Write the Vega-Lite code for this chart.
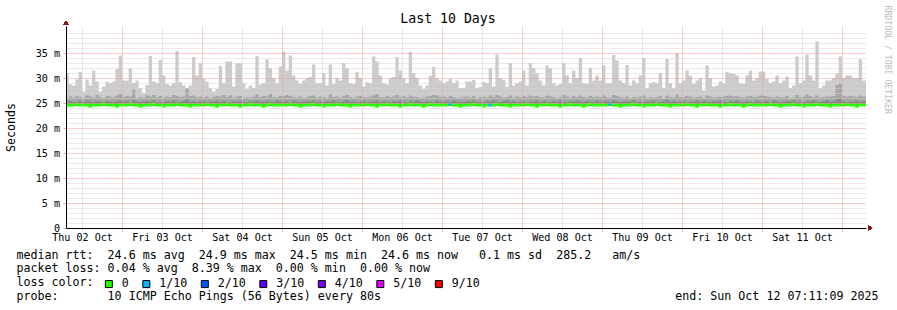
{
"$schema": "https://vega.github.io/schema/vega-lite/v6.json",
"width": 800, "height": 202,
"autosize": {"type": "none"},
"padding": {"left": 66, "top": 26, "right": 31, "bottom": 82},
"background": "white",
"config": {"view": {"stroke": null}, "font": "DejaVu Sans Mono"},
"title": {"text": "Last 10 Days", "font": "DejaVu Sans Mono", "fontSize": 13.2, "fontWeight": "normal", "color": "#000", "anchor": "middle", "frame": "group", "dx": -18, "dy": 23, "offset": 2},
"data": {"values": [
{"t":"2025-10-02T07:00Z","hi":31.0,"mid":26.0,"dk":25.3,"med":24.6,"loss":"0"},
{"t":"2025-10-02T08:00Z","hi":28.7,"mid":26.3,"dk":25.4,"med":24.6,"loss":"0"},
{"t":"2025-10-02T09:00Z","hi":28.5,"mid":26.1,"dk":25.2,"med":24.6,"loss":"0"},
{"t":"2025-10-02T10:00Z","hi":29.7,"mid":26.4,"dk":25.3,"med":24.8,"loss":"0"},
{"t":"2025-10-02T11:00Z","hi":31.2,"mid":26.2,"dk":25.4,"med":24.6,"loss":"0"},
{"t":"2025-10-02T12:00Z","hi":27.3,"mid":26.0,"dk":25.2,"med":24.6,"loss":"0"},
{"t":"2025-10-02T13:00Z","hi":29.7,"mid":26.5,"dk":25.5,"med":24.6,"loss":"0"},
{"t":"2025-10-02T14:00Z","hi":28.5,"mid":26.3,"dk":25.3,"med":24.4,"loss":"0"},
{"t":"2025-10-02T15:00Z","hi":31.5,"mid":26.1,"dk":25.2,"med":24.6,"loss":"0"},
{"t":"2025-10-02T16:00Z","hi":29.3,"mid":26.6,"dk":25.4,"med":24.6,"loss":"0"},
{"t":"2025-10-02T17:00Z","hi":27.3,"mid":26.2,"dk":25.3,"med":24.6,"loss":"0"},
{"t":"2025-10-02T18:00Z","hi":28.3,"mid":26.0,"dk":25.2,"med":24.8,"loss":"0"},
{"t":"2025-10-02T19:00Z","hi":29.3,"mid":26.4,"dk":25.4,"med":24.6,"loss":"0"},
{"t":"2025-10-02T20:00Z","hi":29.0,"mid":26.3,"dk":25.3,"med":24.6,"loss":"0"},
{"t":"2025-10-02T21:00Z","hi":29.3,"mid":26.1,"dk":25.2,"med":24.6,"loss":"0"},
{"t":"2025-10-02T22:00Z","hi":31.8,"mid":26.5,"dk":25.4,"med":24.4,"loss":"0"},
{"t":"2025-10-02T23:00Z","hi":34.5,"mid":26.8,"dk":25.5,"med":24.6,"loss":"0"},
{"t":"2025-10-03T00:00Z","hi":29.5,"mid":26.2,"dk":25.3,"med":24.6,"loss":"0"},
{"t":"2025-10-03T01:00Z","hi":29.5,"mid":26.4,"dk":25.4,"med":24.6,"loss":"0"},
{"t":"2025-10-03T02:00Z","hi":31.9,"mid":26.3,"dk":25.2,"med":24.8,"loss":"0"},
{"t":"2025-10-03T03:00Z","hi":29.0,"mid":27.7,"dk":25.5,"med":24.6,"loss":"0"},
{"t":"2025-10-03T04:00Z","hi":29.5,"mid":26.0,"dk":25.3,"med":24.6,"loss":"0"},
{"t":"2025-10-03T05:00Z","hi":28.0,"mid":26.2,"dk":25.2,"med":24.4,"loss":"0"},
{"t":"2025-10-03T06:00Z","hi":27.0,"mid":26.1,"dk":25.3,"med":24.6,"loss":"0"},
{"t":"2025-10-03T07:00Z","hi":28.6,"mid":26.5,"dk":25.4,"med":24.6,"loss":"0"},
{"t":"2025-10-03T08:00Z","hi":34.4,"mid":26.3,"dk":25.3,"med":24.6,"loss":"0"},
{"t":"2025-10-03T09:00Z","hi":29.3,"mid":26.6,"dk":25.5,"med":24.8,"loss":"0"},
{"t":"2025-10-03T10:00Z","hi":29.0,"mid":26.2,"dk":25.2,"med":24.6,"loss":"0"},
{"t":"2025-10-03T11:00Z","hi":33.6,"mid":26.4,"dk":25.3,"med":24.6,"loss":"0"},
{"t":"2025-10-03T12:00Z","hi":30.5,"mid":26.1,"dk":25.2,"med":24.4,"loss":"0"},
{"t":"2025-10-03T13:00Z","hi":28.8,"mid":26.3,"dk":25.4,"med":24.6,"loss":"0"},
{"t":"2025-10-03T14:00Z","hi":28.5,"mid":26.2,"dk":25.3,"med":24.6,"loss":"0"},
{"t":"2025-10-03T15:00Z","hi":29.0,"mid":26.6,"dk":25.5,"med":24.6,"loss":"0"},
{"t":"2025-10-03T16:00Z","hi":35.4,"mid":26.4,"dk":25.3,"med":24.8,"loss":"0"},
{"t":"2025-10-03T17:00Z","hi":29.2,"mid":26.2,"dk":25.2,"med":24.6,"loss":"0"},
{"t":"2025-10-03T18:00Z","hi":28.5,"mid":26.3,"dk":25.4,"med":24.6,"loss":"0"},
{"t":"2025-10-03T19:00Z","hi":27.8,"mid":28.0,"dk":25.7,"med":24.6,"loss":"0"},
{"t":"2025-10-03T20:00Z","hi":28.5,"mid":26.4,"dk":25.3,"med":24.4,"loss":"0"},
{"t":"2025-10-03T21:00Z","hi":34.2,"mid":26.5,"dk":25.4,"med":24.6,"loss":"0"},
{"t":"2025-10-03T22:00Z","hi":30.5,"mid":26.2,"dk":25.2,"med":24.6,"loss":"0"},
{"t":"2025-10-03T23:00Z","hi":33.0,"mid":26.3,"dk":25.3,"med":24.6,"loss":"0"},
{"t":"2025-10-04T00:00Z","hi":29.8,"mid":26.1,"dk":25.4,"med":24.6,"loss":"0"},
{"t":"2025-10-04T01:00Z","hi":29.3,"mid":26.3,"dk":25.2,"med":24.8,"loss":"0"},
{"t":"2025-10-04T02:00Z","hi":28.0,"mid":26.0,"dk":25.3,"med":24.6,"loss":"0"},
{"t":"2025-10-04T03:00Z","hi":27.3,"mid":26.2,"dk":25.3,"med":24.6,"loss":"0"},
{"t":"2025-10-04T04:00Z","hi":27.8,"mid":26.4,"dk":25.5,"med":24.4,"loss":"0"},
{"t":"2025-10-04T05:00Z","hi":32.4,"mid":26.3,"dk":25.2,"med":24.6,"loss":"0"},
{"t":"2025-10-04T06:00Z","hi":29.0,"mid":26.6,"dk":25.4,"med":24.6,"loss":"0"},
{"t":"2025-10-04T07:00Z","hi":33.3,"mid":26.2,"dk":25.3,"med":24.8,"loss":"0"},
{"t":"2025-10-04T08:00Z","hi":33.3,"mid":26.5,"dk":25.2,"med":24.6,"loss":"0"},
{"t":"2025-10-04T09:00Z","hi":28.3,"mid":26.1,"dk":25.4,"med":24.6,"loss":"0"},
{"t":"2025-10-04T10:00Z","hi":33.0,"mid":26.3,"dk":25.3,"med":24.6,"loss":"0"},
{"t":"2025-10-04T11:00Z","hi":33.0,"mid":26.4,"dk":25.5,"med":24.4,"loss":"0"},
{"t":"2025-10-04T12:00Z","hi":29.0,"mid":26.0,"dk":25.3,"med":24.6,"loss":"0"},
{"t":"2025-10-04T13:00Z","hi":27.8,"mid":26.2,"dk":25.2,"med":24.6,"loss":"0"},
{"t":"2025-10-04T14:00Z","hi":28.5,"mid":26.1,"dk":25.4,"med":24.8,"loss":"0"},
{"t":"2025-10-04T15:00Z","hi":28.0,"mid":26.3,"dk":25.3,"med":24.6,"loss":"0"},
{"t":"2025-10-04T16:00Z","hi":34.4,"mid":26.7,"dk":25.5,"med":24.6,"loss":"0"},
{"t":"2025-10-04T17:00Z","hi":28.7,"mid":26.2,"dk":25.3,"med":24.6,"loss":"0"},
{"t":"2025-10-04T18:00Z","hi":29.0,"mid":26.4,"dk":25.2,"med":24.4,"loss":"0"},
{"t":"2025-10-04T19:00Z","hi":33.7,"mid":26.3,"dk":25.4,"med":24.6,"loss":"0"},
{"t":"2025-10-04T20:00Z","hi":32.0,"mid":26.8,"dk":25.3,"med":24.8,"loss":"0"},
{"t":"2025-10-04T21:00Z","hi":30.0,"mid":26.2,"dk":25.2,"med":24.6,"loss":"0"},
{"t":"2025-10-04T22:00Z","hi":29.0,"mid":26.1,"dk":25.5,"med":24.6,"loss":"0"},
{"t":"2025-10-04T23:00Z","hi":32.3,"mid":26.4,"dk":25.3,"med":24.6,"loss":"0"},
{"t":"2025-10-05T00:00Z","hi":35.3,"mid":26.3,"dk":25.3,"med":24.6,"loss":"0"},
{"t":"2025-10-05T01:00Z","hi":31.5,"mid":26.6,"dk":25.4,"med":24.6,"loss":"0"},
{"t":"2025-10-05T02:00Z","hi":34.5,"mid":26.4,"dk":25.2,"med":24.8,"loss":"0"},
{"t":"2025-10-05T03:00Z","hi":30.5,"mid":26.2,"dk":25.5,"med":24.6,"loss":"0"},
{"t":"2025-10-05T04:00Z","hi":29.5,"mid":26.1,"dk":25.3,"med":24.6,"loss":"0"},
{"t":"2025-10-05T05:00Z","hi":28.8,"mid":26.3,"dk":25.2,"med":24.4,"loss":"0"},
{"t":"2025-10-05T06:00Z","hi":29.5,"mid":26.0,"dk":25.3,"med":24.6,"loss":"0"},
{"t":"2025-10-05T07:00Z","hi":30.0,"mid":26.2,"dk":25.4,"med":24.6,"loss":"0"},
{"t":"2025-10-05T08:00Z","hi":30.2,"mid":26.4,"dk":25.3,"med":24.6,"loss":"0"},
{"t":"2025-10-05T09:00Z","hi":32.7,"mid":26.5,"dk":25.5,"med":24.8,"loss":"0"},
{"t":"2025-10-05T10:00Z","hi":29.0,"mid":26.1,"dk":25.2,"med":24.6,"loss":"0"},
{"t":"2025-10-05T11:00Z","hi":29.0,"mid":26.3,"dk":25.3,"med":24.6,"loss":"0"},
{"t":"2025-10-05T12:00Z","hi":31.0,"mid":26.2,"dk":25.2,"med":24.4,"loss":"0"},
{"t":"2025-10-05T13:00Z","hi":28.5,"mid":26.0,"dk":25.4,"med":24.6,"loss":"0"},
{"t":"2025-10-05T14:00Z","hi":32.7,"mid":26.7,"dk":25.3,"med":24.6,"loss":"0"},
{"t":"2025-10-05T15:00Z","hi":28.8,"mid":26.2,"dk":25.5,"med":24.6,"loss":"0"},
{"t":"2025-10-05T16:00Z","hi":30.0,"mid":26.3,"dk":25.3,"med":24.8,"loss":"0"},
{"t":"2025-10-05T17:00Z","hi":29.5,"mid":26.1,"dk":25.2,"med":24.6,"loss":"0"},
{"t":"2025-10-05T18:00Z","hi":33.0,"mid":26.4,"dk":25.4,"med":24.6,"loss":"0"},
{"t":"2025-10-05T19:00Z","hi":32.0,"mid":26.6,"dk":25.6,"med":24.6,"loss":"0"},
{"t":"2025-10-05T20:00Z","hi":29.0,"mid":26.2,"dk":25.3,"med":24.4,"loss":"0"},
{"t":"2025-10-05T21:00Z","hi":28.8,"mid":26.0,"dk":25.4,"med":24.6,"loss":"0"},
{"t":"2025-10-05T22:00Z","hi":31.2,"mid":26.3,"dk":25.2,"med":24.6,"loss":"0"},
{"t":"2025-10-05T23:00Z","hi":30.0,"mid":26.4,"dk":25.3,"med":24.6,"loss":"0"},
{"t":"2025-10-06T00:00Z","hi":28.3,"mid":26.2,"dk":25.4,"med":24.6,"loss":"0"},
{"t":"2025-10-06T01:00Z","hi":29.2,"mid":26.1,"dk":25.2,"med":24.8,"loss":"0"},
{"t":"2025-10-06T02:00Z","hi":29.0,"mid":26.3,"dk":25.3,"med":24.6,"loss":"0"},
{"t":"2025-10-06T03:00Z","hi":34.3,"mid":26.5,"dk":25.3,"med":24.6,"loss":"0"},
{"t":"2025-10-06T04:00Z","hi":33.3,"mid":26.8,"dk":25.5,"med":24.4,"loss":"0"},
{"t":"2025-10-06T05:00Z","hi":30.5,"mid":26.2,"dk":25.2,"med":24.6,"loss":"0"},
{"t":"2025-10-06T06:00Z","hi":29.0,"mid":26.1,"dk":25.4,"med":24.6,"loss":"0"},
{"t":"2025-10-06T07:00Z","hi":28.7,"mid":26.4,"dk":25.3,"med":24.8,"loss":"0"},
{"t":"2025-10-06T08:00Z","hi":30.0,"mid":26.2,"dk":25.2,"med":24.6,"loss":"0"},
{"t":"2025-10-06T09:00Z","hi":30.2,"mid":26.3,"dk":25.4,"med":24.6,"loss":"0"},
{"t":"2025-10-06T10:00Z","hi":34.2,"mid":26.6,"dk":25.3,"med":24.6,"loss":"0"},
{"t":"2025-10-06T11:00Z","hi":31.5,"mid":26.2,"dk":25.5,"med":24.4,"loss":"0"},
{"t":"2025-10-06T12:00Z","hi":30.0,"mid":26.4,"dk":25.3,"med":24.6,"loss":"0"},
{"t":"2025-10-06T13:00Z","hi":29.0,"mid":26.1,"dk":25.2,"med":24.6,"loss":"0"},
{"t":"2025-10-06T14:00Z","hi":35.2,"mid":26.5,"dk":25.4,"med":24.8,"loss":"0"},
{"t":"2025-10-06T15:00Z","hi":31.0,"mid":26.3,"dk":25.3,"med":24.6,"loss":"0"},
{"t":"2025-10-06T16:00Z","hi":30.0,"mid":26.2,"dk":25.5,"med":24.6,"loss":"0"},
{"t":"2025-10-06T17:00Z","hi":28.5,"mid":26.0,"dk":25.3,"med":24.6,"loss":"0"},
{"t":"2025-10-06T18:00Z","hi":27.8,"mid":26.1,"dk":25.2,"med":24.4,"loss":"0"},
{"t":"2025-10-06T19:00Z","hi":28.5,"mid":26.3,"dk":25.4,"med":24.6,"loss":"0"},
{"t":"2025-10-06T20:00Z","hi":30.5,"mid":26.4,"dk":25.3,"med":24.8,"loss":"0"},
{"t":"2025-10-06T21:00Z","hi":32.2,"mid":26.6,"dk":25.2,"med":24.6,"loss":"0"},
{"t":"2025-10-06T22:00Z","hi":30.0,"mid":26.5,"dk":25.5,"med":24.6,"loss":"0"},
{"t":"2025-10-06T23:00Z","hi":29.5,"mid":26.2,"dk":25.3,"med":24.6,"loss":"0"},
{"t":"2025-10-07T00:00Z","hi":29.0,"mid":26.3,"dk":25.3,"med":24.6,"loss":"0"},
{"t":"2025-10-07T01:00Z","hi":29.3,"mid":26.1,"dk":25.4,"med":24.6,"loss":"0"},
{"t":"2025-10-07T02:00Z","hi":29.8,"mid":26.4,"dk":25.2,"med":24.8,"loss":"1/10"},
{"t":"2025-10-07T03:00Z","hi":29.0,"mid":26.2,"dk":25.5,"med":24.6,"loss":"0"},
{"t":"2025-10-07T04:00Z","hi":29.5,"mid":26.0,"dk":25.3,"med":24.6,"loss":"0"},
{"t":"2025-10-07T05:00Z","hi":28.0,"mid":26.1,"dk":25.2,"med":24.4,"loss":"0"},
{"t":"2025-10-07T06:00Z","hi":28.0,"mid":26.2,"dk":25.3,"med":24.6,"loss":"0"},
{"t":"2025-10-07T07:00Z","hi":29.3,"mid":26.3,"dk":25.4,"med":24.6,"loss":"0"},
{"t":"2025-10-07T08:00Z","hi":29.3,"mid":26.1,"dk":25.3,"med":24.6,"loss":"0"},
{"t":"2025-10-07T09:00Z","hi":29.6,"mid":26.4,"dk":25.5,"med":24.8,"loss":"0"},
{"t":"2025-10-07T10:00Z","hi":28.0,"mid":26.0,"dk":25.2,"med":24.6,"loss":"0"},
{"t":"2025-10-07T11:00Z","hi":28.2,"mid":26.2,"dk":25.3,"med":24.6,"loss":"0"},
{"t":"2025-10-07T12:00Z","hi":29.2,"mid":26.3,"dk":25.2,"med":24.4,"loss":"0"},
{"t":"2025-10-07T13:00Z","hi":29.0,"mid":26.1,"dk":25.4,"med":24.6,"loss":"0"},
{"t":"2025-10-07T14:00Z","hi":32.0,"mid":26.5,"dk":25.3,"med":24.6,"loss":"1/10"},
{"t":"2025-10-07T15:00Z","hi":28.3,"mid":26.2,"dk":25.5,"med":24.6,"loss":"0"},
{"t":"2025-10-07T16:00Z","hi":34.7,"mid":26.6,"dk":25.3,"med":24.8,"loss":"0"},
{"t":"2025-10-07T17:00Z","hi":30.0,"mid":26.3,"dk":25.2,"med":24.6,"loss":"0"},
{"t":"2025-10-07T18:00Z","hi":29.6,"mid":26.1,"dk":25.4,"med":24.6,"loss":"0"},
{"t":"2025-10-07T19:00Z","hi":28.2,"mid":26.2,"dk":25.6,"med":24.6,"loss":"0"},
{"t":"2025-10-07T20:00Z","hi":33.0,"mid":26.5,"dk":25.3,"med":24.4,"loss":"0"},
{"t":"2025-10-07T21:00Z","hi":28.5,"mid":26.1,"dk":25.4,"med":24.6,"loss":"0"},
{"t":"2025-10-07T22:00Z","hi":29.0,"mid":26.3,"dk":25.2,"med":24.6,"loss":"0"},
{"t":"2025-10-07T23:00Z","hi":29.3,"mid":26.2,"dk":25.3,"med":24.6,"loss":"0"},
{"t":"2025-10-08T00:00Z","hi":31.5,"mid":26.4,"dk":25.4,"med":24.6,"loss":"0"},
{"t":"2025-10-08T01:00Z","hi":28.5,"mid":26.2,"dk":25.2,"med":24.8,"loss":"0"},
{"t":"2025-10-08T02:00Z","hi":33.0,"mid":26.5,"dk":25.3,"med":24.6,"loss":"0"},
{"t":"2025-10-08T03:00Z","hi":32.0,"mid":26.3,"dk":25.3,"med":24.6,"loss":"0"},
{"t":"2025-10-08T04:00Z","hi":31.0,"mid":26.4,"dk":25.5,"med":24.4,"loss":"0"},
{"t":"2025-10-08T05:00Z","hi":29.5,"mid":26.2,"dk":25.2,"med":24.6,"loss":"0"},
{"t":"2025-10-08T06:00Z","hi":28.5,"mid":26.1,"dk":25.4,"med":24.6,"loss":"0"},
{"t":"2025-10-08T07:00Z","hi":32.5,"mid":26.5,"dk":25.3,"med":24.8,"loss":"0"},
{"t":"2025-10-08T08:00Z","hi":32.0,"mid":26.3,"dk":25.2,"med":24.6,"loss":"0"},
{"t":"2025-10-08T09:00Z","hi":29.0,"mid":26.2,"dk":25.4,"med":24.6,"loss":"0"},
{"t":"2025-10-08T10:00Z","hi":28.5,"mid":26.0,"dk":25.3,"med":24.6,"loss":"0"},
{"t":"2025-10-08T11:00Z","hi":28.8,"mid":26.2,"dk":25.5,"med":24.4,"loss":"0"},
{"t":"2025-10-08T12:00Z","hi":33.0,"mid":26.6,"dk":25.3,"med":24.6,"loss":"0"},
{"t":"2025-10-08T13:00Z","hi":30.5,"mid":26.3,"dk":25.2,"med":24.6,"loss":"0"},
{"t":"2025-10-08T14:00Z","hi":29.0,"mid":26.1,"dk":25.4,"med":24.8,"loss":"0"},
{"t":"2025-10-08T15:00Z","hi":31.5,"mid":26.4,"dk":25.3,"med":24.6,"loss":"0"},
{"t":"2025-10-08T16:00Z","hi":30.0,"mid":26.2,"dk":25.5,"med":24.6,"loss":"0"},
{"t":"2025-10-08T17:00Z","hi":34.0,"mid":26.5,"dk":25.3,"med":24.6,"loss":"0"},
{"t":"2025-10-08T18:00Z","hi":29.0,"mid":26.2,"dk":25.2,"med":24.4,"loss":"0"},
{"t":"2025-10-08T19:00Z","hi":28.8,"mid":26.1,"dk":25.4,"med":24.6,"loss":"0"},
{"t":"2025-10-08T20:00Z","hi":32.0,"mid":26.4,"dk":25.3,"med":24.8,"loss":"0"},
{"t":"2025-10-08T21:00Z","hi":29.5,"mid":26.2,"dk":25.2,"med":24.6,"loss":"0"},
{"t":"2025-10-08T22:00Z","hi":30.5,"mid":26.3,"dk":25.5,"med":24.6,"loss":"0"},
{"t":"2025-10-08T23:00Z","hi":29.5,"mid":26.2,"dk":25.3,"med":24.6,"loss":"0"},
{"t":"2025-10-09T00:00Z","hi":32.5,"mid":26.5,"dk":25.3,"med":24.6,"loss":"0"},
{"t":"2025-10-09T01:00Z","hi":29.0,"mid":26.2,"dk":25.4,"med":24.6,"loss":"0"},
{"t":"2025-10-09T02:00Z","hi":29.0,"mid":26.1,"dk":25.2,"med":24.8,"loss":"1/10"},
{"t":"2025-10-09T03:00Z","hi":34.6,"mid":26.6,"dk":25.5,"med":24.6,"loss":"0"},
{"t":"2025-10-09T04:00Z","hi":33.5,"mid":26.4,"dk":25.3,"med":24.6,"loss":"0"},
{"t":"2025-10-09T05:00Z","hi":29.5,"mid":26.2,"dk":25.2,"med":24.4,"loss":"0"},
{"t":"2025-10-09T06:00Z","hi":29.0,"mid":26.1,"dk":25.3,"med":24.6,"loss":"0"},
{"t":"2025-10-09T07:00Z","hi":32.6,"mid":26.3,"dk":25.4,"med":24.6,"loss":"0"},
{"t":"2025-10-09T08:00Z","hi":28.5,"mid":26.0,"dk":25.3,"med":24.6,"loss":"0"},
{"t":"2025-10-09T09:00Z","hi":29.5,"mid":26.2,"dk":25.5,"med":24.8,"loss":"0"},
{"t":"2025-10-09T10:00Z","hi":29.0,"mid":26.1,"dk":25.2,"med":24.6,"loss":"0"},
{"t":"2025-10-09T11:00Z","hi":30.5,"mid":26.3,"dk":25.3,"med":24.6,"loss":"0"},
{"t":"2025-10-09T12:00Z","hi":34.0,"mid":26.5,"dk":25.2,"med":24.4,"loss":"0"},
{"t":"2025-10-09T13:00Z","hi":28.0,"mid":26.0,"dk":25.4,"med":24.6,"loss":"0"},
{"t":"2025-10-09T14:00Z","hi":29.0,"mid":26.2,"dk":25.3,"med":24.6,"loss":"0"},
{"t":"2025-10-09T15:00Z","hi":29.2,"mid":26.1,"dk":25.5,"med":24.6,"loss":"0"},
{"t":"2025-10-09T16:00Z","hi":29.0,"mid":26.2,"dk":25.3,"med":24.8,"loss":"0"},
{"t":"2025-10-09T17:00Z","hi":31.0,"mid":26.4,"dk":25.2,"med":24.6,"loss":"0"},
{"t":"2025-10-09T18:00Z","hi":28.0,"mid":26.0,"dk":25.4,"med":24.6,"loss":"0"},
{"t":"2025-10-09T19:00Z","hi":33.8,"mid":26.5,"dk":25.6,"med":24.6,"loss":"0"},
{"t":"2025-10-09T20:00Z","hi":29.0,"mid":26.2,"dk":25.3,"med":24.4,"loss":"0"},
{"t":"2025-10-09T21:00Z","hi":28.0,"mid":26.1,"dk":25.4,"med":24.6,"loss":"0"},
{"t":"2025-10-09T22:00Z","hi":35.0,"mid":26.7,"dk":25.2,"med":24.6,"loss":"0"},
{"t":"2025-10-09T23:00Z","hi":29.0,"mid":26.2,"dk":25.3,"med":24.6,"loss":"0"},
{"t":"2025-10-10T00:00Z","hi":29.5,"mid":26.2,"dk":25.4,"med":24.6,"loss":"0"},
{"t":"2025-10-10T01:00Z","hi":31.5,"mid":26.4,"dk":25.2,"med":24.8,"loss":"0"},
{"t":"2025-10-10T02:00Z","hi":30.5,"mid":26.3,"dk":25.3,"med":24.6,"loss":"0"},
{"t":"2025-10-10T03:00Z","hi":28.8,"mid":26.1,"dk":25.3,"med":24.6,"loss":"0"},
{"t":"2025-10-10T04:00Z","hi":29.5,"mid":26.2,"dk":25.5,"med":24.4,"loss":"0"},
{"t":"2025-10-10T05:00Z","hi":30.0,"mid":26.3,"dk":25.2,"med":24.6,"loss":"0"},
{"t":"2025-10-10T06:00Z","hi":27.5,"mid":26.0,"dk":25.4,"med":24.6,"loss":"0"},
{"t":"2025-10-10T07:00Z","hi":32.5,"mid":26.5,"dk":25.3,"med":24.8,"loss":"0"},
{"t":"2025-10-10T08:00Z","hi":30.0,"mid":26.3,"dk":25.2,"med":24.6,"loss":"0"},
{"t":"2025-10-10T09:00Z","hi":28.3,"mid":26.1,"dk":25.4,"med":24.6,"loss":"0"},
{"t":"2025-10-10T10:00Z","hi":28.5,"mid":26.2,"dk":25.3,"med":24.6,"loss":"0"},
{"t":"2025-10-10T11:00Z","hi":29.3,"mid":26.2,"dk":25.5,"med":24.4,"loss":"0"},
{"t":"2025-10-10T12:00Z","hi":29.0,"mid":26.3,"dk":25.3,"med":24.6,"loss":"0"},
{"t":"2025-10-10T13:00Z","hi":31.2,"mid":26.4,"dk":25.2,"med":24.6,"loss":"0"},
{"t":"2025-10-10T14:00Z","hi":31.0,"mid":26.5,"dk":25.4,"med":24.8,"loss":"0"},
{"t":"2025-10-10T15:00Z","hi":30.8,"mid":26.3,"dk":25.3,"med":24.6,"loss":"0"},
{"t":"2025-10-10T16:00Z","hi":30.5,"mid":26.4,"dk":25.5,"med":24.6,"loss":"0"},
{"t":"2025-10-10T17:00Z","hi":29.0,"mid":26.2,"dk":25.3,"med":24.6,"loss":"0"},
{"t":"2025-10-10T18:00Z","hi":28.8,"mid":26.1,"dk":25.2,"med":24.4,"loss":"0"},
{"t":"2025-10-10T19:00Z","hi":30.5,"mid":26.3,"dk":25.4,"med":24.6,"loss":"0"},
{"t":"2025-10-10T20:00Z","hi":31.5,"mid":26.4,"dk":25.3,"med":24.8,"loss":"0"},
{"t":"2025-10-10T21:00Z","hi":29.5,"mid":26.2,"dk":25.2,"med":24.6,"loss":"0"},
{"t":"2025-10-10T22:00Z","hi":30.0,"mid":26.3,"dk":25.5,"med":24.6,"loss":"0"},
{"t":"2025-10-10T23:00Z","hi":31.3,"mid":26.5,"dk":25.3,"med":24.6,"loss":"0"},
{"t":"2025-10-11T00:00Z","hi":31.3,"mid":26.4,"dk":25.3,"med":24.6,"loss":"0"},
{"t":"2025-10-11T01:00Z","hi":29.8,"mid":26.3,"dk":25.4,"med":24.6,"loss":"0"},
{"t":"2025-10-11T02:00Z","hi":29.0,"mid":26.2,"dk":25.2,"med":24.8,"loss":"0"},
{"t":"2025-10-11T03:00Z","hi":29.3,"mid":26.1,"dk":25.5,"med":24.6,"loss":"0"},
{"t":"2025-10-11T04:00Z","hi":30.5,"mid":26.3,"dk":25.3,"med":24.6,"loss":"0"},
{"t":"2025-10-11T05:00Z","hi":29.0,"mid":26.2,"dk":25.2,"med":24.4,"loss":"0"},
{"t":"2025-10-11T06:00Z","hi":29.5,"mid":26.2,"dk":25.3,"med":24.6,"loss":"0"},
{"t":"2025-10-11T07:00Z","hi":30.3,"mid":26.4,"dk":25.4,"med":24.6,"loss":"0"},
{"t":"2025-10-11T08:00Z","hi":28.0,"mid":26.0,"dk":25.3,"med":24.6,"loss":"0"},
{"t":"2025-10-11T09:00Z","hi":28.5,"mid":26.1,"dk":25.5,"med":24.8,"loss":"0"},
{"t":"2025-10-11T10:00Z","hi":34.3,"mid":26.6,"dk":25.2,"med":24.6,"loss":"0"},
{"t":"2025-10-11T11:00Z","hi":29.0,"mid":26.2,"dk":25.3,"med":24.6,"loss":"0"},
{"t":"2025-10-11T12:00Z","hi":29.5,"mid":26.3,"dk":25.2,"med":24.4,"loss":"0"},
{"t":"2025-10-11T13:00Z","hi":34.7,"mid":26.7,"dk":25.4,"med":24.6,"loss":"0"},
{"t":"2025-10-11T14:00Z","hi":30.5,"mid":26.4,"dk":25.3,"med":24.6,"loss":"0"},
{"t":"2025-10-11T15:00Z","hi":29.5,"mid":26.2,"dk":25.5,"med":24.6,"loss":"0"},
{"t":"2025-10-11T16:00Z","hi":37.3,"mid":26.5,"dk":25.3,"med":24.8,"loss":"0"},
{"t":"2025-10-11T17:00Z","hi":28.0,"mid":26.1,"dk":25.2,"med":24.6,"loss":"0"},
{"t":"2025-10-11T18:00Z","hi":28.5,"mid":26.2,"dk":25.4,"med":24.6,"loss":"0"},
{"t":"2025-10-11T19:00Z","hi":29.5,"mid":26.3,"dk":25.6,"med":24.6,"loss":"0"},
{"t":"2025-10-11T20:00Z","hi":29.5,"mid":26.3,"dk":25.3,"med":24.4,"loss":"0"},
{"t":"2025-10-11T21:00Z","hi":30.0,"mid":26.4,"dk":25.4,"med":24.6,"loss":"0"},
{"t":"2025-10-11T22:00Z","hi":31.0,"mid":28.6,"dk":25.9,"med":24.6,"loss":"0"},
{"t":"2025-10-11T23:00Z","hi":34.3,"mid":29.0,"dk":26.0,"med":24.6,"loss":"0"},
{"t":"2025-10-12T00:00Z","hi":30.0,"mid":26.4,"dk":25.4,"med":24.6,"loss":"0"},
{"t":"2025-10-12T01:00Z","hi":30.5,"mid":26.3,"dk":25.2,"med":24.8,"loss":"0"},
{"t":"2025-10-12T02:00Z","hi":30.5,"mid":26.4,"dk":25.3,"med":24.6,"loss":"0"},
{"t":"2025-10-12T03:00Z","hi":30.0,"mid":26.3,"dk":25.3,"med":24.6,"loss":"0"},
{"t":"2025-10-12T04:00Z","hi":30.0,"mid":26.2,"dk":25.5,"med":24.4,"loss":"0"},
{"t":"2025-10-12T05:00Z","hi":33.7,"mid":26.5,"dk":25.2,"med":24.6,"loss":"0"},
{"t":"2025-10-12T06:00Z","hi":29.5,"mid":26.3,"dk":25.4,"med":24.6,"loss":"0"},
{"t":"2025-10-12T07:00Z","hi":29.5,"mid":26.2,"dk":25.3,"med":24.8,"loss":"0"},
{"t":"2025-10-12T08:00Z","hi":29.5,"mid":26.2,"dk":25.3,"med":24.6,"loss":"0"}
]},
"layer": [
  {"mark": {"type": "area", "interpolate": "step-after", "color": "#cbcbcb", "clip": true},
   "encoding": {
    "x": {"field": "t", "type": "temporal",
      "scale": {"type": "utc", "domain": [1759389069000, 1760253069000]},
      "axis": {
        "values": [1759406400000,1759428000000,1759449600000,1759471200000,1759492800000,1759514400000,1759536000000,1759557600000,1759579200000,1759600800000,1759622400000,1759644000000,1759665600000,1759687200000,1759708800000,1759730400000,1759752000000,1759773600000,1759795200000,1759816800000,1759838400000,1759860000000,1759881600000,1759903200000,1759924800000,1759946400000,1759968000000,1759989600000,1760011200000,1760032800000,1760054400000,1760076000000,1760097600000,1760119200000,1760140800000,1760162400000,1760184000000,1760205600000,1760227200000,1760248800000],
        "labelExpr": "utchours(datum.value) === 12 ? utcFormat(datum.value, '%a %d %b') : ''",
        "labelFont": "DejaVu Sans Mono", "labelFontSize": 10.1, "labelColor": "#000000", "labelOverlap": false, "labelFlush": false, "labelPadding": 1.5, "labelBaseline": "top",
        "grid": true,
        "gridColor": {"condition": {"test": "utchours(datum.value) === 0", "value": "#f29a9a"}, "value": "#cfcfcf"},
        "gridDash": [1, 1], "gridWidth": 1,
        "tickColor": {"condition": {"test": "utchours(datum.value) === 0", "value": "#f29a9a"}, "value": "#cfcfcf"},
        "tickSize": 3,
        "domainColor": "#000", "domainWidth": 1,
        "zindex": 1,
        "title": ["median\u00a0rtt:\u00a0\u00a024.6\u00a0ms\u00a0avg\u00a0\u00a024.9\u00a0ms\u00a0max\u00a0\u00a024.5\u00a0ms\u00a0min\u00a0\u00a024.6\u00a0ms\u00a0now\u00a0\u00a0\u00a00.1\u00a0ms\u00a0sd\u00a0\u00a0285.2\u00a0\u00a0\u00a0am/s", "packet\u00a0loss:\u00a00.04\u00a0%\u00a0avg\u00a0\u00a08.39\u00a0%\u00a0max\u00a0\u00a00.00\u00a0%\u00a0min\u00a0\u00a00.00\u00a0%\u00a0now", "loss\u00a0color:", "probe:\u00a0\u00a0\u00a0\u00a0\u00a0\u00a0\u00a010\u00a0ICMP\u00a0Echo\u00a0Pings\u00a0(56\u00a0Bytes)\u00a0every\u00a080s\u00a0\u00a0\u00a0\u00a0\u00a0\u00a0\u00a0\u00a0\u00a0\u00a0\u00a0\u00a0\u00a0\u00a0\u00a0\u00a0\u00a0\u00a0\u00a0\u00a0\u00a0\u00a0\u00a0\u00a0\u00a0\u00a0\u00a0\u00a0\u00a0\u00a0\u00a0\u00a0\u00a0\u00a0\u00a0\u00a0\u00a0\u00a0\u00a0\u00a0\u00a0\u00a0end:\u00a0Sun\u00a0Oct\u00a012\u00a007:11:09\u00a02025"],
        "titleFont": "DejaVu Sans Mono", "titleFontSize": 11.65, "titleFontWeight": "normal", "titleColor": "#000",
        "titleAlign": "left", "titleBaseline": "alphabetic", "titleLineHeight": 13.9,
        "titleX": -50, "titleY": 30
      }},
    "y": {"field": "hi", "type": "quantitative",
      "scale": {"domain": [0, 40.4], "nice": false},
      "axis": {
        "values": [0,1,2,3,4,5,6,7,8,9,10,11,12,13,14,15,16,17,18,19,20,21,22,23,24,25,26,27,28,29,30,31,32,33,34,35,36,37,38,39],
        "labelExpr": "datum.value % 5 === 0 ? (datum.value === 0 ? '0' : datum.value + ' m') : ''",
        "labelFont": "DejaVu Sans Mono", "labelFontSize": 10.1, "labelColor": "#000000", "labelOpacity": 1, "labelPadding": 3.5, "labelOverlap": false, "labelFlush": false,
        "tickSize": 3, "tickColor": "#f29a9a",
        "tickOpacity": {"condition": {"test": "datum.value % 5 === 0", "value": 1}, "value": 0},
        "grid": true,
        "gridColor": {"condition": {"test": "datum.value % 5 === 0", "value": "#f29a9a"}, "value": "#d4d4d4"},
        "gridDash": [1, 1],
        "domainColor": "#000",
        "zindex": 1,
        "title": "Seconds", "titleFont": "DejaVu Sans Mono", "titleFontSize": 11.65, "titleFontWeight": "normal", "titleColor": "#000",
        "titleAngle": -90, "titleX": -55, "titleY": 101, "titleAlign": "center", "titleBaseline": "middle"
      }},
    "y2": {"datum": 24.4}
   }},
  {"mark": {"type": "area", "interpolate": "step-after", "color": "#a6a6a6", "clip": true},
   "encoding": {"x": {"field": "t", "type": "temporal"}, "y": {"field": "mid", "type": "quantitative", "axis": null}, "y2": {"datum": 24.4}}},
  {"mark": {"type": "area", "interpolate": "step-after", "color": "#888888", "clip": true},
   "encoding": {"x": {"field": "t", "type": "temporal"}, "y": {"field": "dk", "type": "quantitative", "axis": null}, "y2": {"datum": 24.4}}},
  {"mark": {"type": "point", "shape": "triangle-up", "filled": true, "color": "#8b1a1a", "opacity": 1, "size": 22, "yOffset": -3, "clip": false},
   "encoding": {"x": {"datum": 1759389069000, "type": "temporal"}, "y": {"datum": 40.4, "type": "quantitative", "axis": null}}},
  {"mark": {"type": "point", "shape": "triangle-right", "filled": true, "color": "#8b1a1a", "opacity": 1, "size": 22, "xOffset": 4, "clip": false},
   "encoding": {"x": {"datum": 1760253069000, "type": "temporal"}, "y": {"datum": 0, "type": "quantitative", "axis": null}}},
  {"mark": {"type": "tick", "orient": "horizontal", "thickness": 3, "size": 4, "xOffset": 1.67, "clip": true, "opacity": 1},
  "encoding": {
   "x": {"field": "t", "type": "temporal"},
   "y": {"field": "med", "type": "quantitative",
     "axis": {"orient": "right", "labels": false, "ticks": false, "domain": false, "grid": false,
       "title": "RRDTOOL / TOBI OETIKER", "titleFont": "DejaVu Sans Mono", "titleFontSize": 8.2, "titleFontWeight": "normal", "titleColor": "#bdbdbd",
       "titleAngle": 90, "titleAlign": "left", "titleBaseline": "middle", "titleX": 20.6, "titleY": -21}},
   "color": {"field": "loss", "type": "nominal",
     "scale": {"domain": ["0", "1/10", "2/10", "3/10", "4/10", "5/10", "9/10"], "range": ["#26ff00", "#00b8ff", "#0059ff", "#5e00ff", "#7e00ff", "#dd00ff", "#ff0000"]},
     "legend": {"title": null, "orient": "none", "legendX": 37, "legendY": 252, "direction": "horizontal", "gridAlign": "each",
       "symbolType": "square", "symbolSize": 49, "symbolStrokeColor": "#000", "symbolStrokeWidth": 1, "symbolOpacity": 1,
       "labelFont": "DejaVu Sans Mono", "labelFontSize": 11.65, "labelColor": "#000", "labelOffset": 7, "columnPadding": 11.5, "padding": 0}}
  }}
],
"resolve": {"axis": {"y": "independent"}}
}
